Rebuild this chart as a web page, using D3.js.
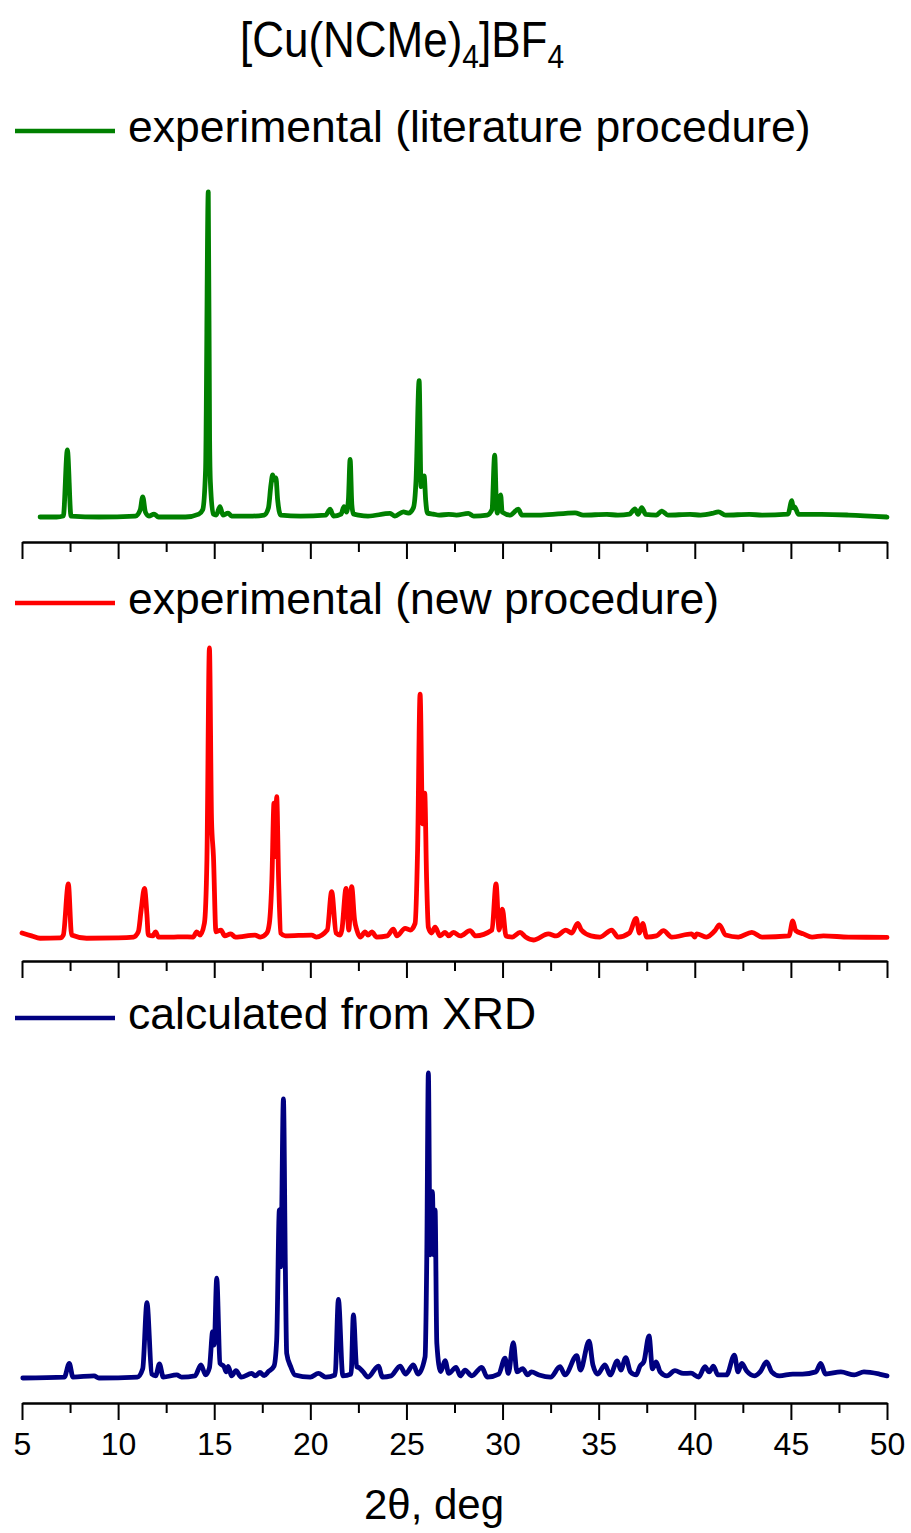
<!DOCTYPE html>
<html>
<head>
<meta charset="utf-8">
<script src="https://cdn.jsdelivr.net/npm/d3@7"></script>
<style>
  body { margin: 0; background: #fff; }
  text { font-family: "Liberation Sans", Arial, sans-serif; fill: #000; }
</style>
</head>
<body>
<div id="chart"></div>
<script>
// tick values of the 2theta axis
const majorTicks = [5, 10, 15, 20, 25, 30, 35, 40, 45, 50];
const minorTicks = [7.5, 12.5, 17.5, 22.5, 27.5, 32.5, 37.5, 42.5, 47.5];

const seriesLabels = [
  'experimental (literature procedure)',
  'experimental (new procedure)',
  'calculated from XRD'
];
const seriesColors = ['#008000', '#ff0000', '#000080'];

// [2theta, relative intensity]
const litPattern = [
  [5.94,0.3],[6.8,0.3],[7.15,0.6],[7.36,20.9],[7.55,0.6],[9.0,0.3],[10.9,0.6],[11.15,2.5],
  [11.28,6.5],[11.42,1.8],[11.6,0.6],[11.87,1.2],[12.1,0.3],[13.5,0.3],[14.2,1.2],[14.4,2.5],
  [14.55,14.7],[14.69,100],[14.76,23.9],[14.8,11.1],[14.95,1.2],[15.1,0.9],[15.3,3.5],[15.45,0.9],
  [15.72,1.5],[15.9,0.6],[17.0,0.6],[17.6,0.9],[17.82,3.1],[17.95,10.1],[18.04,13.2],[18.12,11.7],
  [18.21,12.3],[18.3,5.5],[18.46,0.9],[19.5,0.6],[20.8,0.9],[21.03,2.7],[21.2,0.6],[21.6,1.2],
  [21.75,3.5],[21.88,1.8],[21.98,5.5],[22.07,18.0],[22.16,4.0],[22.24,1.2],[22.5,0.9],[23.0,0.6],
  [24.15,1.4],[24.4,0.6],[24.84,1.9],[25.1,1.5],[25.36,3.1],[25.5,11.7],[25.66,42.1],[25.76,9.6],
  [25.84,11.7],[25.92,12.9],[26.0,5.5],[26.09,1.5],[26.4,1.2],[26.7,0.9],[27.2,1.1],[27.6,0.9],
  [28.22,1.4],[28.5,0.6],[29.2,0.9],[29.45,2.5],[29.59,19.3],[29.68,4.0],[29.73,1.5],[29.82,5.5],
  [29.9,7.1],[29.98,1.8],[30.4,0.9],[30.82,2.7],[31.0,0.9],[32.0,0.9],[33.77,1.6],[34.2,0.9],
  [35.42,1.1],[36.0,0.9],[36.6,1.2],[36.89,2.8],[37.05,1.1],[37.24,3.2],[37.45,1.1],[38.0,0.9],
  [38.28,2.1],[38.6,0.9],[39.75,1.1],[40.3,0.9],[40.9,1.4],[41.23,1.9],[41.6,0.9],[42.84,1.1],
  [43.5,0.9],[44.85,1.2],[45.05,5.3],[45.12,3.1],[45.19,3.4],[45.4,1.1],[46.6,1.1],[48.0,0.9],
  [50.0,0.3]
];

const newPattern = [
  [5.0,2.4],[5.5,1.4],[5.94,0.6],[7.0,0.7],[7.15,1.7],[7.41,19.2],[7.58,1.7],[8.36,0.6],
  [10.0,0.7],[10.8,1.0],[11.05,2.8],[11.2,10.3],[11.37,17.7],[11.5,8.6],[11.57,1.7],[11.8,1.4],
  [11.95,2.8],[12.1,1.0],[12.9,1.0],[13.31,1.1],[13.9,1.0],[14.09,2.8],[14.26,1.7],[14.49,5.8],
  [14.62,27.4],[14.75,100],[14.86,41.1],[14.96,28.6],[15.09,2.8],[15.35,3.4],[15.55,1.4],[15.86,2.1],
  [16.1,1.0],[17.12,1.7],[17.4,1.0],[17.73,2.3],[17.87,5.8],[18.0,20.6],[18.11,46.9],[18.18,28.6],
  [18.25,49.1],[18.35,20.6],[18.46,2.3],[18.7,1.4],[20.07,1.7],[20.3,1.0],[20.88,3.4],[21.11,16.6],
  [21.34,2.4],[21.55,1.7],[21.64,3.4],[21.86,17.7],[22.0,3.4],[22.15,18.3],[22.3,6.9],[22.42,3.4],
  [22.6,1.0],[22.85,2.8],[23.0,1.7],[23.2,2.8],[23.45,1.0],[24.0,1.4],[24.32,3.7],[24.5,1.4],
  [24.93,4.0],[25.2,3.4],[25.45,5.7],[25.58,30.9],[25.71,84.2],[25.84,39.8],[25.95,50.3],[26.05,20.6],
  [26.14,4.3],[26.3,2.4],[26.49,4.4],[26.75,1.4],[27.01,2.6],[27.2,1.4],[27.44,2.6],[27.8,1.4],
  [28.31,3.2],[28.6,1.4],[29.45,3.4],[29.66,19.2],[29.82,3.4],[29.99,10.6],[30.18,1.4],[30.5,1.0],
  [30.91,2.6],[31.2,1.0],[31.6,0.0],[32.38,2.1],[32.8,1.4],[33.29,3.4],[33.6,2.4],[33.91,5.7],
  [34.1,3.4],[34.6,1.4],[35.07,1.0],[35.68,3.4],[36.0,1.0],[36.6,2.4],[36.95,7.4],[37.12,2.4],
  [37.29,5.7],[37.5,1.0],[38.0,1.4],[38.37,3.2],[38.8,1.0],[39.84,2.1],[40.0,1.0],[40.1,2.1],
  [40.6,1.0],[41.05,3.2],[41.28,5.2],[41.6,1.7],[42.27,1.0],[42.97,2.6],[43.5,1.0],[44.9,1.4],
  [45.1,6.5],[45.25,3.2],[45.65,2.1],[46.1,1.0],[46.69,1.4],[48.0,1.0],[50.0,0.9]
];

const calcPattern = [
  [5.04,0],[7.2,0.3],[7.46,4.8],[7.65,0.3],[8.75,0.7],[9.0,0],[11.0,0.3],[11.28,3.0],
  [11.5,24.7],[11.75,1.3],[11.95,0.7],[12.15,4.6],[12.35,0.3],[13.05,1.0],[13.3,0.3],[14.0,0.7],
  [14.31,4.3],[14.55,1.0],[14.75,3.3],[14.92,15.2],[15.0,10.8],[15.13,32.7],[15.3,4.8],[15.51,3.7],
  [15.62,2.0],[15.73,3.8],[15.9,0.7],[16.13,2.4],[16.4,0.3],[16.95,1.5],[17.15,0.7],[17.38,1.8],
  [17.6,0.8],[17.82,2.1],[18.11,3.9],[18.25,12.5],[18.39,55.1],[18.46,36.5],[18.6,91.5],[18.7,36.5],
  [18.77,8.1],[18.98,3.7],[19.2,1.0],[20.0,0.3],[20.42,1.5],[20.8,0.3],[21.29,1.0],[21.46,25.8],
  [21.69,0.7],[22.12,1.3],[22.24,20.7],[22.41,3.7],[22.55,3.3],[22.75,2.0],[23.0,0.3],[23.54,3.9],
  [23.75,0.3],[24.2,0.7],[24.67,3.9],[24.95,1.3],[25.36,4.3],[25.6,1.3],[25.97,7.0],[26.06,40.9],
  [26.14,100],[26.23,40.4],[26.35,61.1],[26.42,40.4],[26.49,55.1],[26.58,11.4],[26.78,2.1],[27.01,5.7],
  [27.2,1.5],[27.58,3.5],[27.8,0.7],[28.05,2.6],[28.4,0.7],[28.92,3.5],[29.2,0.3],[29.8,1.3],
  [30.13,6.5],[30.3,1.5],[30.56,11.6],[30.75,2.0],[31.05,3.1],[31.3,1.0],[31.5,2.0],[31.9,1.0],
  [32.5,0.3],[32.99,3.7],[33.25,1.0],[33.86,7.3],[34.05,2.6],[34.5,12.1],[34.7,4.3],[34.95,1.3],
  [35.33,4.3],[35.6,1.0],[35.97,5.6],[36.15,2.6],[36.41,6.7],[36.65,2.0],[36.95,1.0],[37.15,3.9],
  [37.35,5.3],[37.62,13.8],[37.8,3.0],[37.99,5.3],[38.2,2.0],[38.55,0.7],[38.97,2.4],[39.4,1.5],
  [39.8,1.6],[40.2,0.3],[40.53,3.7],[40.75,2.0],[40.97,3.9],[41.2,1.0],[41.65,1.0],[42.06,7.5],
  [42.25,2.0],[42.44,4.8],[42.7,2.3],[43.1,0.7],[43.4,2.0],[43.74,5.3],[44.0,2.0],[44.4,0.7],
  [45.1,1.3],[45.6,1.3],[46.3,2.0],[46.55,4.8],[46.8,1.3],[47.6,2.0],[48.3,1.0],[48.8,2.0],
  [49.6,1.3],[50.0,0.7]
];

const patterns = [litPattern, newPattern, calcPattern];

const width = 911, height = 1533;
const margin = { left: 22, right: 24 };

// vertical placement of each stacked panel
const panels = [
  { base: 518, top: 192, axis: 542, legend: 131 },
  { base: 940, top: 648, axis: 961, legend: 603 },
  { base: 1378, top: 1073, axis: 1403, legend: 1018 }
];

const svg = d3.select('#chart').append('svg')
  .attr('width', width)
  .attr('height', height);

const xScale = d3.scaleLinear()
  .domain([5, 50])
  .range([margin.left, width - margin.right]);

// title with subscripts
const title = svg.append('text')
  .attr('transform', 'translate(402,57) scale(0.88,1)')
  .attr('text-anchor', 'middle')
  .style('font-size', '50px');
title.append('tspan').text('[Cu(NCMe)');
title.append('tspan').text('4').attr('dy', 11).style('font-size', '34px');
title.append('tspan').text(']BF').attr('dy', -11);
title.append('tspan').text('4').attr('dy', 11).style('font-size', '34px');

panels.forEach((p, i) => {
  const yScale = d3.scaleLinear()
    .domain([0, 100])
    .range([p.base, p.top]);

  const line = d3.line()
    .x(d => xScale(d[0]))
    .y(d => yScale(d[1]))
    .curve(d3.curveMonotoneX);

  svg.append('path')
    .attr('d', line(patterns[i]))
    .attr('fill', 'none')
    .attr('stroke', seriesColors[i])
    .attr('stroke-width', 4.8)
    .attr('stroke-linejoin', 'round')
    .attr('stroke-linecap', 'round');

  // legend
  svg.append('line')
    .attr('x1', 15).attr('x2', 115)
    .attr('y1', p.legend).attr('y2', p.legend)
    .attr('stroke', seriesColors[i])
    .attr('stroke-width', 4.5);
  svg.append('text')
    .attr('x', 128)
    .attr('y', p.legend + 11)
    .style('font-size', '44.5px')
    .text(seriesLabels[i]);

  const last = i === panels.length - 1;

  const xAxis = d3.axisBottom(xScale)
    .tickValues(majorTicks)
    .tickSize(17)
    .tickSizeOuter(0)
    .tickPadding(12)
    .tickFormat(last ? d3.format('d') : () => '');

  const minorAxis = d3.axisBottom(xScale)
    .tickValues(minorTicks)
    .tickSize(10)
    .tickSizeOuter(0)
    .tickFormat('');

  const axisG = svg.append('g')
    .attr('transform', `translate(0,${p.axis})`)
    .call(xAxis);
  const minorG = svg.append('g')
    .attr('transform', `translate(0,${p.axis})`)
    .call(minorAxis);

  [axisG, minorG].forEach(g => {
    g.select('.domain').attr('stroke', '#000').attr('stroke-width', 2);
    g.selectAll('.tick line').attr('stroke', '#000').attr('stroke-width', 2);
  });
  axisG.selectAll('.tick text')
    .style('font-size', '32px')
    .style('font-family', '"Liberation Sans", Arial, sans-serif')
    .attr('fill', '#000');
});

svg.append('text')
  .attr('x', 434)
  .attr('y', 1519)
  .attr('text-anchor', 'middle')
  .style('font-size', '42px')
  .text('2θ, deg');
</script>
</body>
</html>
